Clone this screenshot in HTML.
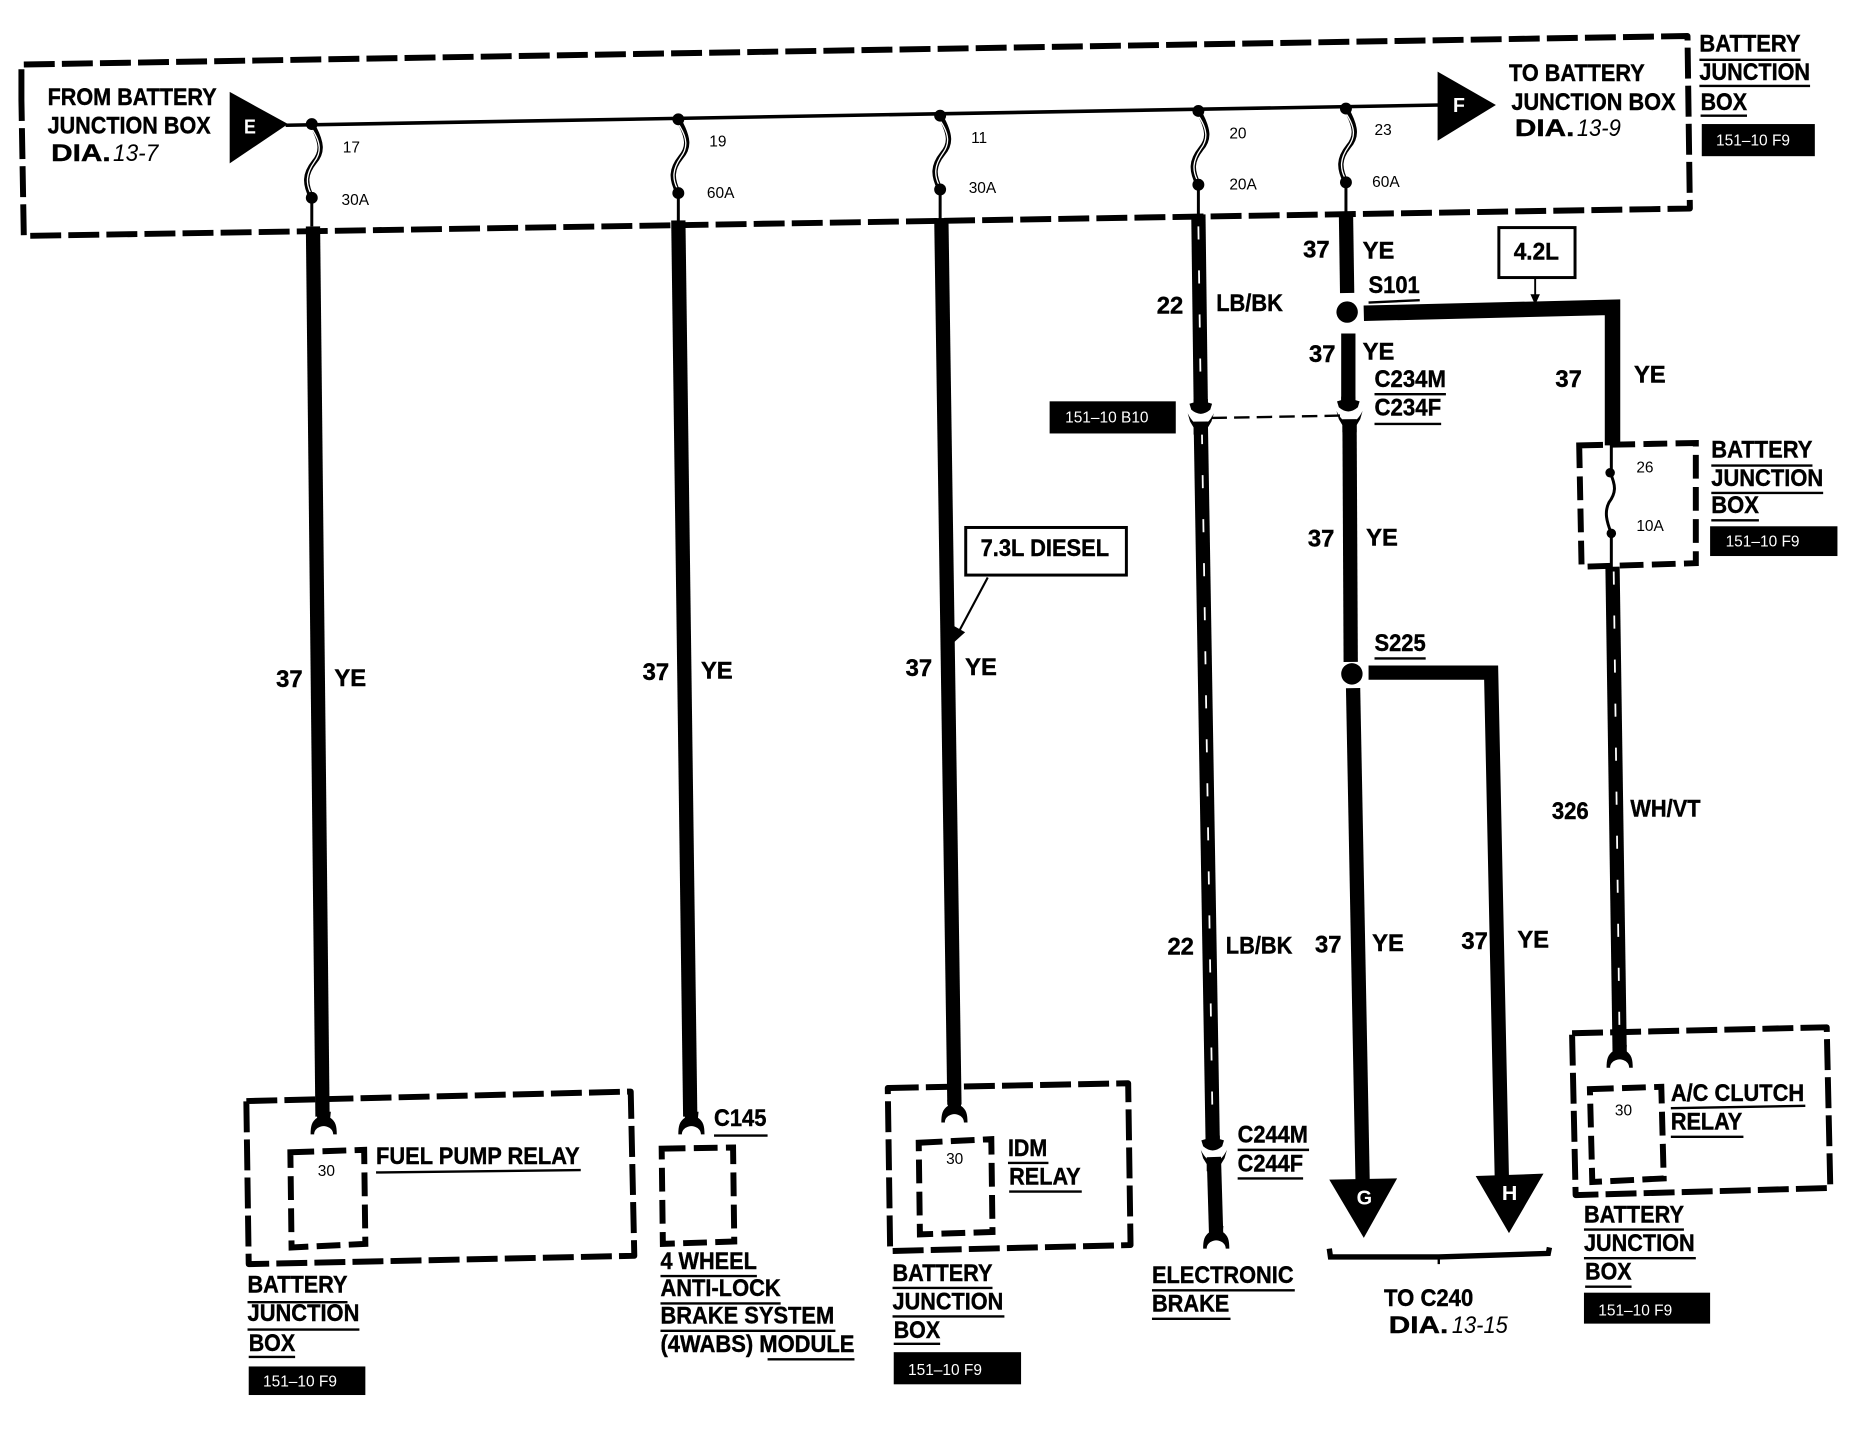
<!DOCTYPE html>
<html>
<head>
<meta charset="utf-8">
<style>
html,body{margin:0;padding:0;background:#fff;}
svg{display:block;}
text{font-family:"Liberation Sans",sans-serif;fill:#000;}
.b{font-weight:bold;font-size:20px;stroke:#000;stroke-width:.35px;}
.s{font-size:13px;}
.w{fill:#fff;font-size:13px;}
.l{fill:#fff;font-weight:bold;font-size:17px;}
.i{font-style:italic;font-size:20px;}
.d{fill:none;stroke:#000;stroke-width:5;stroke-dasharray:26 6;stroke-linejoin:round;}
.d2{fill:none;stroke:#000;stroke-width:5;stroke-dasharray:20 7;}
.u{stroke:#000;stroke-width:2;fill:none;}
.wire{stroke:#000;stroke-width:12;fill:none;}
.st{stroke:#fff;stroke-width:1.5;stroke-dasharray:11 26;fill:none;}
</style>
</head>
<body>
<svg width="1866" height="1456" viewBox="0 0 1568 1223" xmlns="http://www.w3.org/2000/svg">
<defs>
<g id="fork"><path d="M-6,-14 L-5.5,-9 C-10,-6 -11,-2 -11,5 L-8,5 C-8,0 -3,-2 0,-2 C3,-2 8,0 8,5 L11,5 C11,-2 10,-6 5.5,-9 L6,-14 Z" fill="#000"/></g>
<g id="male"><path d="M-6,-10 L6,-10 L6,-7 L9.5,-6 L8,-1 Q0,6 -8,-1 L-9.5,-6 L-6,-7Z" fill="#000"/></g>
<g id="female"><path d="M-11,-3 Q-6,7 0,7 Q6,7 11,-3 L9,4 L6,9 L6,15 L-6,15 L-6,9 L-9,4Z" fill="#000"/></g>
<g id="fuse">
<path d="M0,0 C9,16 9,24 2,32 C-6,42 -6,50 0,62" fill="none" stroke="#000" stroke-width="4.5"/>
<path d="M0,4 C8,16 8,24 2,32 C-5,42 -5,50 -1,58" fill="none" stroke="#fff" stroke-width="1.1"/>
<circle cx="0" cy="0" r="5" fill="#000"/><circle cx="0" cy="62" r="5" fill="#000"/>
</g>
</defs>
<rect width="1568" height="1223" fill="#fff"/>

<!-- outer battery junction box -->
<path class="d" d="M18,84 L18,54 L1418,30 L1420,175 L20,198 L18,84"/>
<path d="M240,105 L1210,88" stroke="#000" stroke-width="3" fill="none"/>
<path d="M193,77 L242,104 L193,137Z" fill="#000"/>
<path d="M1208,60 L1257,88 L1208,118Z" fill="#000"/>
<text class="l" x="205" y="112" textLength="10" lengthAdjust="spacingAndGlyphs">E</text>
<text class="l" x="1221" y="94" textLength="10" lengthAdjust="spacingAndGlyphs">F</text>

<use href="#fuse" x="262" y="104"/>
<use href="#fuse" x="570" y="100"/>
<use href="#fuse" x="790" y="97"/>
<use href="#fuse" x="1007" y="93"/>
<use href="#fuse" x="1131" y="91"/>
<path d="M262,166 V190 M570,162 V186 M790,159 V184 M1007,155 V180 M1131,153 V178" stroke="#000" stroke-width="2.5"/>

<!-- wires -->
<path class="wire" d="M263,190 L271,938"/>
<use href="#fork" x="272" y="948"/>
<path class="wire" d="M570,185 L580,938"/>
<use href="#fork" x="581" y="948"/>
<path class="wire" d="M791,183 L802,928"/>
<use href="#fork" x="802" y="938"/>

<!-- 22 LB/BK -->
<path class="wire" d="M1007,180 L1009,340"/>
<path class="wire" d="M1009,354 L1019,957"/>
<path class="wire" d="M1020,972 L1022,1040"/>
<path class="st" d="M1007,190 L1009,335"/>
<path class="st" d="M1010,362 L1019,950"/>
<use href="#male" x="1009" y="345"/>
<use href="#female" x="1009" y="350"/>
<use href="#male" x="1019" y="964"/>
<use href="#female" x="1020" y="969"/>
<use href="#fork" x="1022" y="1044"/>

<!-- 37 YE branch -->
<path class="wire" d="M1131,178 L1132,246"/>
<circle cx="1132" cy="262" r="9" fill="#000"/>
<path class="wire" d="M1133,280 L1133,340"/>
<use href="#male" x="1133" y="343"/>
<use href="#female" x="1134" y="348"/>
<path class="wire" d="M1134,352 L1135,556"/>
<circle cx="1136" cy="566" r="9" fill="#000"/>
<path class="wire" d="M1137,578 L1145,992"/>
<path class="wire" d="M1150,565 L1253,565 L1262,990"/>
<path d="M1117,991 L1174,990 L1146,1040Z" fill="#000"/>
<path d="M1240,988 L1297,986 L1268,1036Z" fill="#000"/>
<text class="l" x="1140" y="1012" textLength="13" lengthAdjust="spacingAndGlyphs">G</text>
<text class="l" x="1262" y="1008" textLength="13" lengthAdjust="spacingAndGlyphs">H</text>

<!-- S101 branch -->
<path class="wire" stroke-width="13" stroke-linejoin="miter" d="M1146,263 L1355,258 L1355,374" style="stroke-width:13"/>
<path d="M1290,233 V252" stroke="#000" stroke-width="1.6"/>
<path d="M1286,247 L1294,247 L1290,256Z" fill="#000"/>
<rect x="1259.5" y="191" width="64" height="42" fill="#fff" stroke="#000" stroke-width="2.5"/>
<text class="b" x="1272" y="218" textLength="38" lengthAdjust="spacingAndGlyphs">4.2L</text>

<!-- dashed link -->
<path d="M1018,351 L1126,349" stroke="#000" stroke-width="2" stroke-dasharray="13 6" fill="none"/>

<!-- small fuse box -->
<path class="d2" d="M1327,374 L1425,372 L1425,473 L1329,476 Z"/>
<path d="M1354,372 V394 M1354,450 V478" stroke="#000" stroke-width="2.5"/>
<circle cx="1353" cy="397" r="4" fill="#000"/><circle cx="1354" cy="448" r="4" fill="#000"/>
<path d="M1353,397 C1358,408 1358,414 1352,422 C1348,430 1350,438 1354,448" fill="none" stroke="#000" stroke-width="2.5"/>
<path class="wire" d="M1355,476 L1361,884"/>
<path class="st" d="M1356,480 L1361,880"/>
<use href="#fork" x="1361" y="892"/>

<!-- relay boxes -->
<path class="d" d="M207,925 L530,917 L533,1055 L209,1062 Z"/>
<path class="d2" d="M244,968 L306,966 L307,1045 L245,1048 Z"/>
<path class="d2" d="M556,965 L616,964 L617,1043 L557,1045 Z"/>
<path class="d" d="M746,914 L948,910 L950,1046 L748,1051 Z"/>
<path class="d2" d="M772,960 L833,957 L834,1035 L773,1037 Z"/>
<path class="d" d="M1321,868 L1535,863 L1538,998 L1324,1004 Z"/>
<path class="d2" d="M1336,915 L1396,913 L1398,990 L1338,993 Z"/>

<!-- bracket -->
<path d="M1117,1049 L1118,1056 L1209,1056 L1301,1053 L1302,1048" fill="none" stroke="#000" stroke-width="4.5"/>
<path d="M1209,1055 V1062" stroke="#000" stroke-width="2"/>

<!-- diesel box -->
<rect x="811.5" y="443" width="135" height="40" fill="#fff" stroke="#000" stroke-width="2.5"/>
<text class="b" x="824" y="467" textLength="108" lengthAdjust="spacingAndGlyphs">7.3L DIESEL</text>
<path d="M830,485 L806,530" stroke="#000" stroke-width="1.8"/>
<path d="M800,541 L802,526 L811,531Z" fill="#000"/>

<!-- black tags -->
<rect x="1430" y="104" width="95" height="27" fill="#000"/>
<text class="w" x="1442" y="122">151–10 F9</text>
<rect x="882" y="337" width="106" height="27" fill="#000"/>
<text class="w" x="895" y="355">151–10 B10</text>
<rect x="1437" y="442" width="107" height="25" fill="#000"/>
<text class="w" x="1450" y="459">151–10 F9</text>
<rect x="209" y="1148" width="98" height="24" fill="#000"/>
<text class="w" x="221" y="1165">151–10 F9</text>
<rect x="751" y="1136" width="107" height="27" fill="#000"/>
<text class="w" x="763" y="1155">151–10 F9</text>
<rect x="1331" y="1086" width="106" height="26" fill="#000"/>
<text class="w" x="1343" y="1105">151–10 F9</text>

<!-- top labels -->
<text class="b" x="40" y="88" textLength="142" lengthAdjust="spacingAndGlyphs">FROM BATTERY</text>
<text class="b" x="40" y="112" textLength="137" lengthAdjust="spacingAndGlyphs">JUNCTION BOX</text>
<text class="b" x="43" y="135" textLength="50" lengthAdjust="spacingAndGlyphs">DIA.</text>
<text class="i" x="95" y="135" textLength="38" lengthAdjust="spacingAndGlyphs">13-7</text>
<text class="b" x="1268" y="68" textLength="114" lengthAdjust="spacingAndGlyphs">TO BATTERY</text>
<text class="b" x="1270" y="92" textLength="138" lengthAdjust="spacingAndGlyphs">JUNCTION BOX</text>
<text class="b" x="1273" y="114" textLength="50" lengthAdjust="spacingAndGlyphs">DIA.</text>
<text class="i" x="1325" y="114" textLength="37" lengthAdjust="spacingAndGlyphs">13-9</text>
<text class="b" x="1428" y="43" textLength="85" lengthAdjust="spacingAndGlyphs">BATTERY</text>
<path class="u" d="M1428,50 H1513 M1428,72 H1521 M1429,97 H1468"/>
<text class="b" x="1428" y="67" textLength="93" lengthAdjust="spacingAndGlyphs">JUNCTION</text>
<text class="b" x="1429" y="92" textLength="39" lengthAdjust="spacingAndGlyphs">BOX</text>

<!-- fuse labels -->
<text class="s" x="288" y="128">17</text><text class="s" x="287" y="172">30A</text>
<text class="s" x="596" y="123">19</text><text class="s" x="594" y="166">60A</text>
<text class="s" x="816" y="120">11</text><text class="s" x="814" y="162">30A</text>
<text class="s" x="1033" y="116">20</text><text class="s" x="1033" y="159">20A</text>
<text class="s" x="1155" y="113">23</text><text class="s" x="1153" y="157">60A</text>
<text class="s" x="1375" y="397">26</text><text class="s" x="1375" y="446">10A</text>
<text class="s" x="267" y="988">30</text>
<text class="s" x="795" y="978">30</text>
<text class="s" x="1357" y="937">30</text>

<!-- wire labels -->
<text class="b" x="232" y="577">37</text><text class="b" x="281" y="576">YE</text>
<text class="b" x="540" y="571">37</text><text class="b" x="589" y="570">YE</text>
<text class="b" x="761" y="568">37</text><text class="b" x="811" y="567">YE</text>
<text class="b" x="972" y="263">22</text>
<text class="b" x="1022" y="261" textLength="56" lengthAdjust="spacingAndGlyphs">LB/BK</text>
<text class="b" x="1095" y="216">37</text><text class="b" x="1145" y="217">YE</text>
<text class="b" x="1150" y="246" textLength="43" lengthAdjust="spacingAndGlyphs">S101</text>
<path class="u" d="M1150,254 L1193,252"/>
<text class="b" x="1100" y="304">37</text><text class="b" x="1145" y="302">YE</text>
<text class="b" x="1155" y="325" textLength="60" lengthAdjust="spacingAndGlyphs">C234M</text>
<path class="u" d="M1155,331 H1215 M1155,356 H1211"/>
<text class="b" x="1155" y="349" textLength="56" lengthAdjust="spacingAndGlyphs">C234F</text>
<text class="b" x="1307" y="325">37</text><text class="b" x="1373" y="321">YE</text>
<text class="b" x="1099" y="459">37</text><text class="b" x="1148" y="458">YE</text>
<text class="b" x="1155" y="547" textLength="43" lengthAdjust="spacingAndGlyphs">S225</text>
<path class="u" d="M1155,553 H1198"/>
<text class="b" x="981" y="802">22</text>
<text class="b" x="1030" y="801" textLength="56" lengthAdjust="spacingAndGlyphs">LB/BK</text>
<text class="b" x="1105" y="800">37</text><text class="b" x="1153" y="799">YE</text>
<text class="b" x="1228" y="797">37</text><text class="b" x="1275" y="796">YE</text>
<text class="b" x="1304" y="688" textLength="31" lengthAdjust="spacingAndGlyphs">326</text>
<text class="b" x="1370" y="686" textLength="59" lengthAdjust="spacingAndGlyphs">WH/VT</text>

<!-- mid right box label -->
<text class="b" x="1438" y="384" textLength="85" lengthAdjust="spacingAndGlyphs">BATTERY</text>
<text class="b" x="1438" y="408" textLength="94" lengthAdjust="spacingAndGlyphs">JUNCTION</text>
<text class="b" x="1438" y="431" textLength="40" lengthAdjust="spacingAndGlyphs">BOX</text>
<path class="u" d="M1438,391 H1523 M1438,414 H1532 M1438,437 H1478"/>

<!-- lower labels -->
<text class="b" x="316" y="978" textLength="171" lengthAdjust="spacingAndGlyphs">FUEL PUMP RELAY</text>
<path class="u" d="M316,985 L488,983"/>
<text class="b" x="208" y="1086" textLength="84" lengthAdjust="spacingAndGlyphs">BATTERY</text>
<text class="b" x="208" y="1110" textLength="94" lengthAdjust="spacingAndGlyphs">JUNCTION</text>
<text class="b" x="209" y="1135" textLength="39" lengthAdjust="spacingAndGlyphs">BOX</text>
<path class="u" d="M208,1094 H292 M208,1117 H302 M209,1140 H248"/>

<text class="b" x="600" y="946" textLength="44" lengthAdjust="spacingAndGlyphs">C145</text>
<path class="u" d="M600,954 H645"/>
<text class="b" x="555" y="1066" textLength="81" lengthAdjust="spacingAndGlyphs">4 WHEEL</text>
<text class="b" x="555" y="1089" textLength="101" lengthAdjust="spacingAndGlyphs">ANTI-LOCK</text>
<text class="b" x="555" y="1112" textLength="146" lengthAdjust="spacingAndGlyphs">BRAKE SYSTEM</text>
<text class="b" x="555" y="1136" textLength="163" lengthAdjust="spacingAndGlyphs">(4WABS) MODULE</text>
<path class="u" d="M555,1072 H636 M555,1095 H656 M555,1118 H702 M645,1142 H718"/>

<text class="b" x="847" y="971" textLength="33" lengthAdjust="spacingAndGlyphs">IDM</text>
<text class="b" x="848" y="995" textLength="60" lengthAdjust="spacingAndGlyphs">RELAY</text>
<path class="u" d="M847,977 H881 M848,1001 H909"/>
<text class="b" x="750" y="1076" textLength="84" lengthAdjust="spacingAndGlyphs">BATTERY</text>
<text class="b" x="750" y="1100" textLength="93" lengthAdjust="spacingAndGlyphs">JUNCTION</text>
<text class="b" x="751" y="1124" textLength="39" lengthAdjust="spacingAndGlyphs">BOX</text>
<path class="u" d="M750,1082 H834 M750,1106 H844 M751,1129 H790"/>

<text class="b" x="968" y="1078" textLength="119" lengthAdjust="spacingAndGlyphs">ELECTRONIC</text>
<text class="b" x="968" y="1102" textLength="65" lengthAdjust="spacingAndGlyphs">BRAKE</text>
<path class="u" d="M968,1084 H1088 M968,1108 H1034"/>
<text class="b" x="1040" y="960" textLength="59" lengthAdjust="spacingAndGlyphs">C244M</text>
<text class="b" x="1040" y="984" textLength="55" lengthAdjust="spacingAndGlyphs">C244F</text>
<path class="u" d="M1040,966 H1100 M1040,990 H1095"/>
<text class="b" x="1163" y="1097" textLength="75" lengthAdjust="spacingAndGlyphs">TO C240</text>
<text class="b" x="1167" y="1120" textLength="50" lengthAdjust="spacingAndGlyphs">DIA.</text>
<text class="i" x="1220" y="1120" textLength="47" lengthAdjust="spacingAndGlyphs">13-15</text>

<text class="b" x="1404" y="925" textLength="112" lengthAdjust="spacingAndGlyphs">A/C CLUTCH</text>
<text class="b" x="1404" y="949" textLength="60" lengthAdjust="spacingAndGlyphs">RELAY</text>
<path class="u" d="M1404,931 L1517,929 M1404,955 H1465"/>
<text class="b" x="1331" y="1027" textLength="84" lengthAdjust="spacingAndGlyphs">BATTERY</text>
<text class="b" x="1331" y="1051" textLength="93" lengthAdjust="spacingAndGlyphs">JUNCTION</text>
<text class="b" x="1332" y="1075" textLength="39" lengthAdjust="spacingAndGlyphs">BOX</text>
<path class="u" d="M1331,1033 H1415 M1331,1057 H1425 M1332,1081 H1371"/>
</svg>
</body>
</html>
